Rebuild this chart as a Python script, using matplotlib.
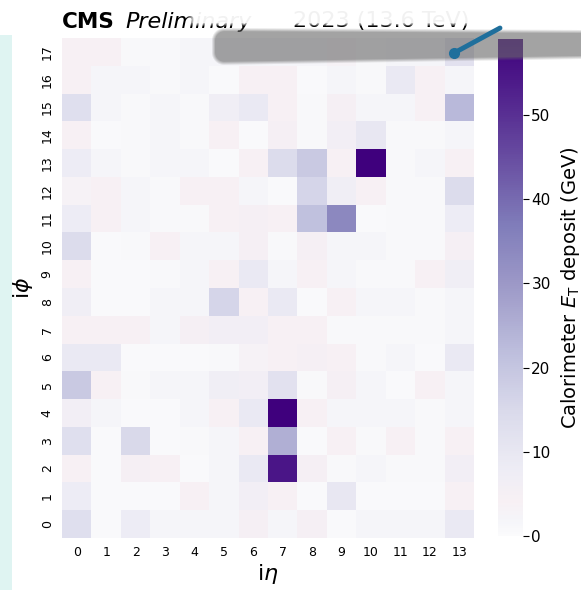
import matplotlib

matplotlib.use("Agg")

import matplotlib.pyplot as plt  # noqa: E402
import numpy as np  # noqa: E402
from matplotlib.colors import LinearSegmentedColormap  # noqa: E402
from matplotlib.patches import Rectangle  # noqa: E402

# ---------------------------------------------------------------------------
# Data: calorimeter E_T per (i_eta, i_phi) tower, rows are i_phi 0..17
# ---------------------------------------------------------------------------
ieta = list(range(14))
iphi = list(range(18))

et_phi00 = [13, 0.5, 8, 2, 2, 2, 5, 2, 5, 0.5, 2, 2, 2, 9]
et_phi01 = [8, 0.5, 0.5, 0.5, 4, 2, 6, 4, 0.5, 10, 0.5, 0.5, 0.5, 4]
et_phi02 = [4, 0.5, 5, 4, 0.5, 2, 9, 55, 5, 1, 2, 1, 1, 6]
et_phi03 = [13, 0.5, 15, 0.5, 1, 2, 4, 25, 0.5, 4, 1, 4, 1, 4]
et_phi04 = [6, 2, 0.5, 0.5, 2, 4, 9, 59, 4, 2, 2, 2, 1, 2]
et_phi05 = [19, 4, 1, 2, 2, 7, 6, 12, 1, 5, 2, 0.5, 4, 2]
et_phi06 = [9, 9, 0.5, 0.5, 0.5, 1, 3, 4, 5, 4, 1, 2, 0.5, 9]
et_phi07 = [4, 4, 4, 2, 5, 6, 6, 4, 4, 1, 1, 1, 1, 2]
et_phi08 = [7, 0.5, 0.5, 2, 2, 16, 4, 9, 0.5, 4, 2, 2, 1, 2]
et_phi09 = [4, 0.5, 0.5, 1, 2, 4, 9, 2, 4, 2, 1, 1, 4, 7]
et_phi10 = [14, 0.5, 1, 4, 2, 2, 5, 1, 5, 2, 2, 1, 1, 5]
et_phi11 = [8, 4, 2, 1, 1, 4, 5, 4, 21, 34, 0.5, 1, 1, 8]
et_phi12 = [3, 4, 2, 1, 4, 4, 2, 0.5, 16, 7, 4, 1, 1, 14]
et_phi13 = [8, 2, 1, 2, 2, 0.5, 4, 14, 19, 4, 59, 1, 2, 4]
et_phi14 = [4, 0.5, 1, 2, 1, 4, 0.5, 5, 1, 6, 10, 1, 1, 2]
et_phi15 = [13, 2, 1, 2, 1, 7, 9, 4, 1, 5, 2, 2, 4, 23]
et_phi16 = [4, 2, 2, 1, 2, 0.5, 4, 4, 0.5, 2, 1, 9, 4, 2]
et_phi17 = [4, 4, 1, 1, 2, 2, 2, 2, 2, 3, 1, 2, 2, 12]

et_grid = np.array([
    et_phi00, et_phi01, et_phi02, et_phi03, et_phi04, et_phi05,
    et_phi06, et_phi07, et_phi08, et_phi09, et_phi10, et_phi11,
    et_phi12, et_phi13, et_phi14, et_phi15, et_phi16, et_phi17,
])

# Purples-like map with the faint pink tint seen at low deposits
cmap = LinearSegmentedColormap.from_list("purples_pink", [
    (0.00, "#fbfbfc"),
    (0.03, "#f5f5f9"),
    (0.07, "#f7f0f4"),
    (0.13, "#eeedf5"),
    (0.25, "#dadaeb"),
    (0.375, "#bcbddc"),
    (0.50, "#9e9ac8"),
    (0.625, "#807dba"),
    (0.75, "#6a51a3"),
    (0.875, "#54278f"),
    (1.00, "#3f007d"),
])

W, H = 581, 590
fig = plt.figure(figsize=(W / 100, H / 100), dpi=100)

# faint cyan strip at the left edge of the screenshot
fig.patches.append(Rectangle((0, 0), 12 / W, 0.94, transform=fig.transFigure,
                             facecolor="#dff4f2", edgecolor="none", zorder=-5))

ax = fig.add_axes([62 / W, 52 / H, 412 / W, 500 / H])
mesh = ax.pcolormesh(np.arange(15), np.arange(19), et_grid, cmap=cmap,
                     vmin=0, vmax=59)
ax.set_xticks(np.array(ieta) + 0.5)
ax.set_xticklabels([str(v) for v in ieta], fontsize=9)
ax.set_yticks(np.array(iphi) + 0.5)
ax.set_yticklabels([str(v) for v in iphi], fontsize=9, rotation=90, va="center")
ax.tick_params(length=0, pad=6)
for s in ax.spines.values():
    s.set_visible(False)
ax.set_xlabel(r"i$\eta$", fontsize=16, labelpad=2)
ax.set_ylabel(r"i$\phi$", fontsize=16, labelpad=4)

cax = fig.add_axes([498 / W, 54 / H, 25 / W, 497 / H])
cb = fig.colorbar(mesh, cax=cax, ticks=[0, 10, 20, 30, 40, 50])
cb.outline.set_visible(False)
cb.ax.tick_params(labelsize=11, length=4, width=0.8, pad=2)
cb.set_label(r"Calorimeter $E_{\mathrm{T}}$ deposit (GeV)", fontsize=14, labelpad=6)

# header
fig.text(62 / W, 1 - 27.5 / H, "CMS", fontsize=15.5, fontweight="bold", va="baseline")
fig.text(125 / W, 1 - 27.5 / H, "Preliminary", fontsize=16, style="italic", va="baseline")
fig.text(469 / W, 1 - 27.5 / H, "2023 (13.6 TeV)", fontsize=16, ha="right", va="baseline")

# smear over the header: white wash erasing the top of the text,
# then a translucent grey band over the first heatmap row
over = fig.add_axes([0, 0, 1, 1], zorder=10)
over.set_xlim(0, W)
over.set_ylim(H, 0)
over.axis("off")
yy, xx = np.mgrid[0:H, 0:W].astype(float)

wash_x = np.clip((xx - 186) / 8, 0, 1)
wash_y = np.clip((26 - yy) / 4, 0, 1)
wash = np.ones((H, W, 4))
wash[..., 3] = 0.95 * wash_x * wash_y
over.imshow(wash, extent=(0, W, H, 0), interpolation="bilinear")

band_top = 29 + 2 * (xx - 213) / (W - 213)
band_bot = 63 - 6 * (xx - 213) / (W - 213)
band_mid = (band_top + band_bot) / 2
band_half = (band_bot - band_top) / 2
band_d = np.hypot(np.maximum(224 - xx, 0),
                  np.maximum(np.abs(yy - band_mid) - band_half + 11, 0))
band_a = 0.62 * np.clip((13 - band_d) / 4, 0, 1)
band = np.zeros((H, W, 4))
band[..., :3] = 0.42
band[..., 3] = band_a
over.imshow(band, extent=(0, W, H, 0), interpolation="bilinear")

over.plot([454, 500], [53, 28], color="#1f6f9c", lw=3.5, solid_capstyle="round")
over.plot([454], [53], "o", color="#1f6f9c", ms=7)

fig.savefig("out.png", dpi=100)
plt.close(fig)
